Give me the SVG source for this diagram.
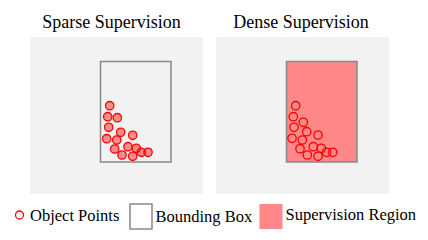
<svg xmlns="http://www.w3.org/2000/svg" width="428" height="240" viewBox="0 0 428 240">
<style>
.t{font-family:"Liberation Serif","Times New Roman",serif;fill:#000}
.title{font-size:18px;text-anchor:middle}
.leg{font-size:16.5px}
.panel{fill:#f2f2f2}
.box{stroke:#888;stroke-width:1.5}
.pf{fill:#ff0000;fill-opacity:0.42;stroke:#ff0000;stroke-width:1.3}
.pe{fill:none;stroke:#ff0000;stroke-width:1.3}
</style>
<rect width="428" height="240" fill="#fff"/>
<g id="sparse">
<text class="t title" x="111.5" y="28">Sparse Supervision</text>
<rect class="panel" x="30" y="37" width="173" height="157"/>
<rect class="box" x="100.5" y="61.5" width="70.5" height="100.5" fill="none"/>
<g>
<circle class="pf" cx="109.7" cy="105.7" r="4.2"/>
<circle class="pf" cx="107.7" cy="116.7" r="4.2"/>
<circle class="pf" cx="117.3" cy="117.7" r="4.2"/>
<circle class="pf" cx="108.7" cy="127.3" r="4.2"/>
<circle class="pf" cx="120.7" cy="132.3" r="4.2"/>
<circle class="pf" cx="132.7" cy="135.3" r="4.2"/>
<circle class="pf" cx="106.7" cy="138.7" r="4.2"/>
<circle class="pf" cx="116.7" cy="140" r="4.2"/>
<circle class="pf" cx="114.7" cy="149" r="4.2"/>
<circle class="pf" cx="128" cy="146.7" r="4.2"/>
<circle class="pf" cx="136.3" cy="148.3" r="4.2"/>
<circle class="pf" cx="122" cy="155" r="4.2"/>
<circle class="pf" cx="132.7" cy="156.3" r="4.2"/>
<circle class="pf" cx="141.3" cy="152.3" r="4.2"/>
<circle class="pf" cx="148" cy="152.3" r="4.2"/>
</g>
</g>
<g id="dense">
<text class="t title" x="301" y="28">Dense Supervision</text>
<rect class="panel" x="216" y="37" width="173" height="157"/>
<rect class="box" x="286.5" y="61.5" width="70.5" height="100.5" fill="#f88"/>
<g>
<circle class="pe" cx="295.7" cy="105.7" r="4.2"/>
<circle class="pe" cx="293.3" cy="116.7" r="4.2"/>
<circle class="pe" cx="303.3" cy="122.3" r="4.2"/>
<circle class="pe" cx="294" cy="127.3" r="4.2"/>
<circle class="pe" cx="306.7" cy="131.7" r="4.2"/>
<circle class="pe" cx="318" cy="135" r="4.2"/>
<circle class="pe" cx="292" cy="138.3" r="4.2"/>
<circle class="pe" cx="302.3" cy="140" r="4.2"/>
<circle class="pe" cx="300" cy="148.7" r="4.2"/>
<circle class="pe" cx="313.3" cy="146.7" r="4.2"/>
<circle class="pe" cx="321.3" cy="148.3" r="4.2"/>
<circle class="pe" cx="307.3" cy="155" r="4.2"/>
<circle class="pe" cx="318" cy="156.3" r="4.2"/>
<circle class="pe" cx="326.7" cy="152.3" r="4.2"/>
<circle class="pe" cx="332.7" cy="152.3" r="4.2"/>
</g>
</g>
<g id="legend">
<circle class="pe" cx="19.5" cy="215" r="4" stroke-width="1.5"/>
<text class="t leg" x="30" y="220.5">Object Points</text>
<rect class="box" x="130" y="204" width="22" height="25" fill="#fff"/>
<text class="t leg" x="155.5" y="221.5">Bounding Box</text>
<rect x="259.5" y="204" width="23" height="25" fill="#f88"/>
<text class="t leg" x="285.5" y="220">Supervision Region</text>
</g>
</svg>
